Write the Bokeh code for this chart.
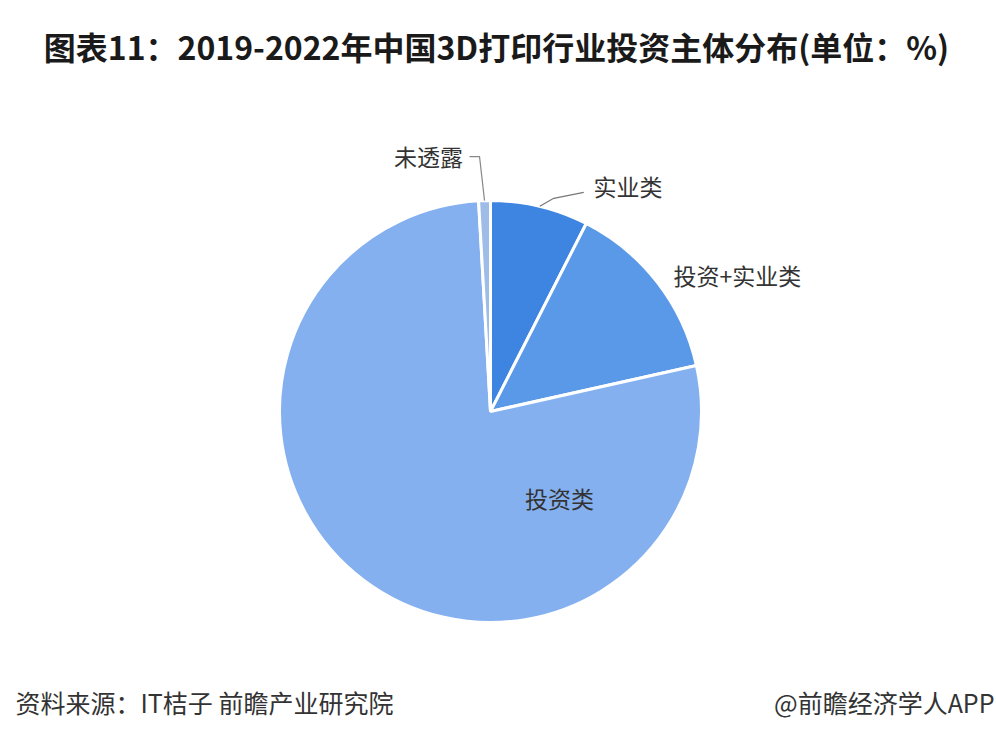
import math
from bokeh.plotting import figure
from bokeh.models import ColumnDataSource, Label
from bokeh.core.properties import value
from bokeh.embed import file_html
from bokeh.resources import INLINE

categories = ["实业类", "投资+实业类", "投资类", "未透露"]
shares = [7.5, 14.0, 77.6, 0.9]
colors = ["#3d85e0", "#5a98e8", "#84b0f0", "#9dbde8"]

title_text = "图表11：2019-2022年中国3D打印行业投资主体分布(单位：%)"
source_text = "资料来源：IT桔子 前瞻产业研究院"
brand_text = "@前瞻经济学人APP"

W, H = 996, 744
FONT = "Noto Sans CJK SC"

p = figure(width=W, height=H, x_range=(0, W), y_range=(0, H),
           output_backend="svg", toolbar_location=None, min_border=0)
p.axis.visible = False
p.grid.visible = False
p.outline_line_color = None
p.background_fill_color = "white"

cx, cy, r = 490, 333, 211
total = sum(shares)
starts, ends, mids = [], [], []
acc = 0.0
for s in shares:
    a0 = math.pi / 2 - acc / total * 2 * math.pi
    acc += s
    a1 = math.pi / 2 - acc / total * 2 * math.pi
    starts.append(a0)
    ends.append(a1)
    mids.append((a0 + a1) / 2)

src = ColumnDataSource(dict(cat=categories, val=shares, start=starts, end=ends, color=colors))
p.wedge(x=cx, y=cy, radius=r, start_angle="start", end_angle="end", direction="clock",
        fill_color="color", line_color="white", line_width=3, source=src)

# leader lines
def edge(i):
    return cx + r * math.cos(mids[i]), cy + r * math.sin(mids[i])

ex, ey = edge(3)
p.line([ex, ex - 5, ex - 15], [ey, ey + 44, ey + 44], line_color="#888888", line_width=1.2)
ex, ey = edge(0)
p.line([ex, ex + 14, ex + 44], [ey, ey + 8, ey + 14], line_color="#777777", line_width=1.2)

label_pos = {
    "未透露": (428, 589, "center"),
    "实业类": (593, 559, "left"),
    "投资+实业类": (673, 470, "left"),
    "投资类": (559, 247, "center"),
}
for cat in categories:
    x, y, al = label_pos[cat]
    p.text(x=[x], y=[y], text=[cat], text_font=value(FONT), text_font_size="23px",
           text_color="#333333", text_align=al, text_baseline="middle")

p.add_layout(Label(x=496, y=H - 45, text=title_text, text_font=FONT,
                   text_font_size="32px", text_font_style="bold", text_color="#1a1a1a",
                   text_align="center", text_baseline="middle"))
p.add_layout(Label(x=15, y=H - 701, text=source_text, text_font=FONT,
                   text_font_size="25px", text_color="#333333",
                   text_align="left", text_baseline="middle"))
p.add_layout(Label(x=W - 2, y=H - 701, text=brand_text, text_font=FONT,
                   text_font_size="25px", text_color="#333333",
                   text_align="right", text_baseline="middle"))

open("out.html", "w").write(file_html(p, INLINE))
